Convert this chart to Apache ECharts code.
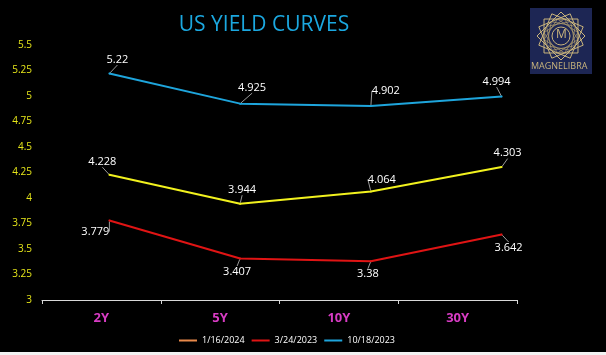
<!DOCTYPE html>
<html>
<head>
<meta charset="utf-8">
<script src="https://cdn.jsdelivr.net/npm/echarts@6/dist/echarts.min.js"></script>
<style>
html,body{margin:0;padding:0;background:#000;}
#c{width:606px;height:355px;}
</style>
</head>
<body>
<div id="c"></div>
<script>
const categories = ['2Y', '5Y', '10Y', '30Y'];
const seriesNames = ['1/16/2024', '3/24/2023', '10/18/2023'];
const yields_2024_01_16 = [4.228, 3.944, 4.064, 4.303];
const yields_2023_03_24 = [3.779, 3.407, 3.38, 3.642];
const yields_2023_10_18 = [5.22, 4.925, 4.902, 4.994];
const yTickMin = 3, yTickMax = 5.5, yTickStep = 0.25;

const lineColors = ['#f2f21e', '#e01414', '#1ea5dc'];
const legendColors = ['#e8894a', '#e01414', '#1ea5dc'];
const seriesValues = [yields_2024_01_16, yields_2023_03_24, yields_2023_10_18];
const labelOffsets = [
  [[-7,-13],[2,-14],[11,-12],[6,-14]],
  [[-14,11],[-3,13],[-3,13],[7,13]],
  [[8,-14],[12,-16],[15,-15],[-5,-15]]
];

const chart = echarts.init(document.getElementById('c'));

// logo geometry
const lc = [561, 36], lr = 24;
const logoShapes = [];
for (let k = 0; k < 4; k++) {
  const pts = [];
  for (let i = 0; i < 4; i++) {
    const a = (k * 22.5 + i * 90 + 45) * Math.PI / 180;
    pts.push([lc[0] + lr * Math.cos(a), lc[1] + lr * Math.sin(a)]);
  }
  logoShapes.push({type:'polygon', shape:{points:pts}, style:{fill:'none', stroke:'#c9b47c', lineWidth:1}, z:101});
}
for (let k = 0; k < 4; k++) {
  const pts = [];
  for (let i = 0; i < 4; i++) {
    const a = (k * 22.5 + i * 90 + 56) * Math.PI / 180;
    pts.push([lc[0] + lr*0.72 * Math.cos(a), lc[1] + lr*0.72 * Math.sin(a)]);
  }
  logoShapes.push({type:'polygon', shape:{points:pts}, style:{fill:'none', stroke:'#b8a46e', lineWidth:0.7}, z:101});
}

chart.setOption({
  backgroundColor: '#000',
  animation: false,
  title: {
    text: 'US YIELD CURVES',
    left: 259, top: 10, textAlign: 'center',
    textStyle: {color: '#1ba8e0', fontSize: 21, fontWeight: 'normal', fontFamily: 'Open Sans'}
  },
  legend: {
    left: 174, top: 331,
    itemWidth: 18, itemHeight: 2, itemGap: 7,
    icon: 'rect',
    textStyle: {color: '#fff', fontSize: 9, fontFamily: 'Open Sans'},
    data: seriesNames.map((n, i) => ({name: n, itemStyle: {color: legendColors[i]}}))
  },
  grid: [
    {left: 42, right: 89, top: 45, bottom: 55},
    {left: 44, right: 39, top: 45, bottom: 55}
  ],
  xAxis: [
    {
      type: 'category', gridIndex: 0, data: categories, boundaryGap: true,
      axisLine: {show: true, lineStyle: {color: '#d9d9d9', width: 1}},
      axisTick: {show: true, inside: false, length: 4, lineStyle: {color: '#d9d9d9'}},
      axisLabel: {color: '#d83cc4', fontSize: 13, fontWeight: 'bold', margin: 12, fontFamily: 'Open Sans'}
    },
    {
      type: 'category', gridIndex: 1, data: categories, boundaryGap: true, show: false
    }
  ],
  yAxis: [
    {
      type: 'value', gridIndex: 0, min: yTickMin, max: yTickMax, interval: yTickStep,
      axisLine: {show: false}, axisTick: {show: false}, splitLine: {show: false},
      axisLabel: {color: '#e6e619', fontSize: 10, margin: 10, fontFamily: 'Open Sans'}
    },
    {
      type: 'value', gridIndex: 1, min: yTickMin, max: yTickMax, interval: yTickStep, show: false,
      splitLine: {show: false}
    }
  ],
  series: seriesNames.map((n, s) => ({
    name: n, type: 'line', xAxisIndex: 1, yAxisIndex: 1,
    data: seriesValues[s],
    symbol: 'circle', symbolSize: 2,
    itemStyle: {color: lineColors[s]},
    lineStyle: {color: lineColors[s], width: 2},
    label: {show: true, position: 'inside', color: '#fff', fontSize: 11, fontFamily: 'Open Sans'},
    labelLayout: (p) => {
      const o = labelOffsets[s][p.dataIndex];
      return {dx: o[0], dy: o[1]};
    },
    labelLine: {show: true, lineStyle: {color: '#9a9a9a', width: 1}},
    z: 3
  })),
  graphic: [
    {type:'rect', shape:{x:530, y:8, width:62, height:66}, style:{fill:'#1d2654'}, z:100},
    ...logoShapes,
    {type:'circle', shape:{cx:lc[0], cy:lc[1], r:9}, style:{fill:'#1d2654', stroke:'#c9b47c', lineWidth:1}, z:102},
    {type:'text', left: lc[0]-5, top: lc[1]-7, style:{text:'M', fill:'#c9b47c', fontSize:12, fontFamily:'Open Sans'}, z:103},
    {type:'text', left: 531, top: 62, style:{text:'MAGNELIBRA', fill:'#c9b47c', fontSize:9, fontFamily:'Open Sans'}, z:103},
    {type:'rect', shape:{x:0, y:352, width:606, height:3}, style:{fill:'#f2f2f2'}, z:100}
  ]
});
</script>
</body>
</html>
